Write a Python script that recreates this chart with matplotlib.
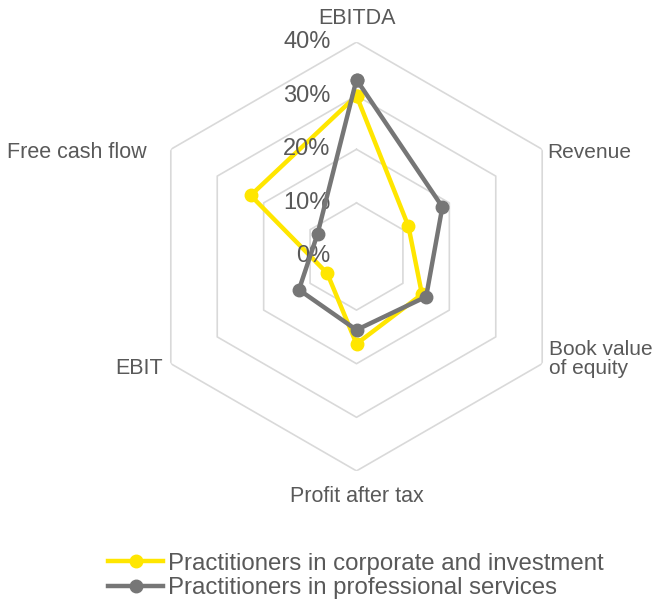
import numpy as np
import matplotlib
matplotlib.use("Agg")
import matplotlib.pyplot as plt
from matplotlib.transforms import offset_copy

plt.rcParams['font.family'] = ['Liberation Sans', 'DejaVu Sans']

categories = ["EBITDA", "Revenue", "Book value\nof equity", "Profit after tax", "EBIT", "Free cash flow"]
corporate = [30, 11.2, 14.1, 16.3, 6.3, 22.8]
professional = [33, 18.5, 15, 13.7, 12.4, 8.4]
series_names = ["Practitioners in corporate and investment", "Practitioners in professional services"]
radial_ticks = [0, 10, 20, 30, 40]
radial_labels = ["0%", "10%", "20%", "30%", "40%"]

W, H = 654, 600
fig = plt.figure(figsize=(W / 100, H / 100), dpi=100)
cx, cy, R = 356.5, 256.5, 214.4
ax = fig.add_axes([(cx - R) / W, 1 - (cy + R) / H, 2 * R / W, 2 * R / H], polar=True)
ax.set_theta_zero_location('N')
ax.set_theta_direction(-1)
ax.set_ylim(0, 40)
ax.grid(False)
ax.spines['polar'].set_visible(False)
ax.set_xticks([])
ax.set_yticks([])
ax.patch.set_alpha(0)

n = len(categories)
theta = np.linspace(0, 2 * np.pi, n, endpoint=False)
theta_c = np.append(theta, theta[0])

# hexagonal grid
for r in radial_ticks[1:]:
    ax.plot(theta_c, [r] * (n + 1), color='#D9D9D9', lw=1.2, zorder=1)

text_color = '#595959'
c_yellow = '#FFE600'
c_gray = '#767676'

ax.plot(theta_c, corporate + corporate[:1], color=c_yellow, lw=3.2, marker='o',
        markersize=9, zorder=3, label=series_names[0], clip_on=False)
ax.plot(theta_c, professional + professional[:1], color=c_gray, lw=3.2, marker='o',
        markersize=9, zorder=4, label=series_names[1], clip_on=False)

# radial labels
tr = offset_copy(ax.transData, fig=fig, x=-26, y=0, units='dots')
for r, lab in zip(radial_ticks, radial_labels):
    ax.text(0, r, lab, transform=tr, ha='right', va='center', fontsize=17,
            color=text_color, clip_on=False)

# category labels: offsets (dots) from the outer vertex
specs = [
    (0, 24, 'center'),
    (5, -3, 'left'),
    (7, 5, 'left'),
    (0, -26, 'center'),
    (-8, -5, 'right'),
    (-24, -3, 'right'),
]
rmax = radial_ticks[-1]
for t, lab, (dx, dy, ha) in zip(theta, categories, specs):
    trc = offset_copy(ax.transData, fig=fig, x=dx, y=dy, units='dots')
    ax.text(t, rmax, lab, transform=trc, ha=ha, va='center',
            fontsize=15.0 if ha == 'left' else 15.5,
            color=text_color, linespacing=1.0, clip_on=False)

leg = fig.legend(loc='center left', bbox_to_anchor=(108 / W, 1 - 576.0 / H),
                 frameon=False, fontsize=17.3, handlelength=2.3, handletextpad=0.2,
                 labelspacing=0.1, borderpad=0, borderaxespad=0)
for t in leg.get_texts():
    t.set_color(text_color)

fig.savefig('out.png', dpi=100)
